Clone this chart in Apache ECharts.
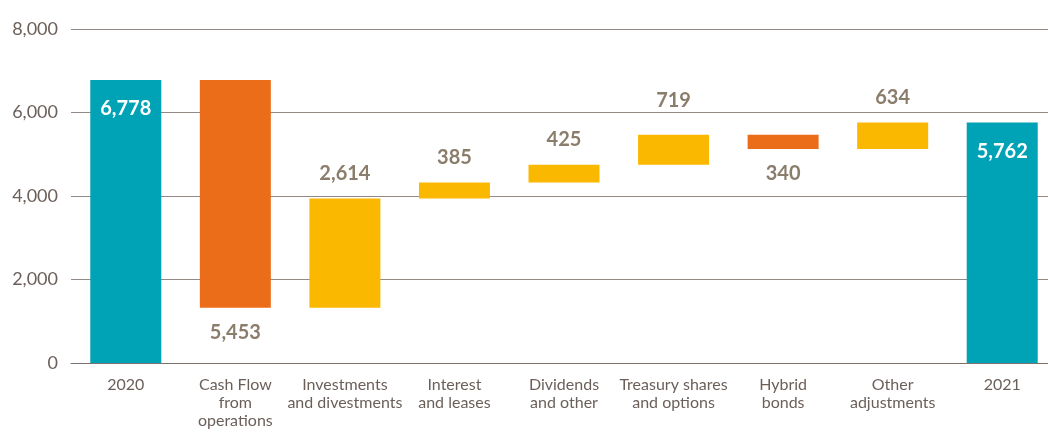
<!DOCTYPE html>
<html lang="en">
<head>
	<meta charset="UTF-8">
	<title>Net debt bridge 2020-2021</title>
	<script src="https://cdn.jsdelivr.net/npm/echarts@6/dist/echarts.min.js"></script>
	<style>
		html, body { margin: 0; padding: 0; background: #ffffff; overflow: hidden; }
		#main { width: 1060px; height: 432px; }
	</style>
</head>
<body>
<div id="main"></div>
<script>
// categories along the x axis
var categories = ['2020', 'Cash Flow\nfrom\noperations', 'Investments\nand divestments', 'Interest\nand leases',
	'Dividends\nand other', 'Treasury shares\nand options', 'Hybrid\nbonds', 'Other\nadjustments', '2021'];
// bar values (size of each step, totals for the two years)
var values = [6778, 5453, 2614, 385, 425, 719, 340, 634, 5762];
// kind of bar: total, down (decrease), up (increase)
var kinds = ['total', 'down', 'up', 'up', 'up', 'up', 'down', 'up', 'total'];
var yTicks = [0, 2000, 4000, 6000, 8000];

var colors = { total: '#00a2b5', down: '#ec6d19', up: '#fab900' };

// build invisible base + visible step from the running total
var base = [], step = [];
var running = 0;
for (var i = 0; i < values.length; i++) {
	var v = values[i], k = kinds[i];
	var item = { value: v, itemStyle: { color: colors[k] } };
	if (k === 'total') {
		base.push(0);
		running = v;
		item.label = { position: 'insideTop', distance: 19, color: '#ffffff' };
	} else if (k === 'down') {
		running = running - v;
		base.push(running);
		item.label = { position: 'bottom', distance: 15 };
	} else {
		base.push(running);
		running = running + v;
		item.label = { position: 'top', distance: 15 };
	}
	step.push(item);
}
// the treasury label sits above the 6,000 gridline
step[5].label.distance = 24;

var myChart = echarts.init(document.getElementById('main'));
var option = {
	animation: false,
	textStyle: { fontFamily: 'Lato' },
	grid: { left: 71, right: 3, top: 29, bottom: 69 },
	xAxis: {
		type: 'category',
		data: categories,
		axisLine: { lineStyle: { color: '#7d716c', width: 1 } },
		axisTick: { show: false },
		axisLabel: {
			interval: 0, margin: 13, color: '#6b5f5a', fontSize: 16, lineHeight: 18,
			fontFamily: 'Lato'
		}
	},
	yAxis: {
		type: 'value',
		min: yTicks[0], max: yTicks[yTicks.length - 1], interval: 2000,
		axisLine: { show: false },
		axisTick: { show: false },
		splitLine: { lineStyle: { color: '#948a85', width: 1 } },
		axisLabel: {
			margin: 13, color: '#6b5f5a', fontSize: 18, fontFamily: 'Lato',
			formatter: function (v) { return v.toLocaleString('en-US'); }
		}
	},
	series: [
		{
			type: 'bar', stack: 'w', data: base, barWidth: 71,
			itemStyle: { color: 'transparent' }, silent: true
		},
		{
			type: 'bar', stack: 'w', data: step, barWidth: 71,
			label: {
				show: true, fontSize: 20, fontWeight: 'bold', color: '#8b7d6b', fontFamily: 'Lato',
				formatter: function (p) { return p.value.toLocaleString('en-US'); }
			}
		}
	]
};
myChart.setOption(option);
</script>
</body>
</html>
